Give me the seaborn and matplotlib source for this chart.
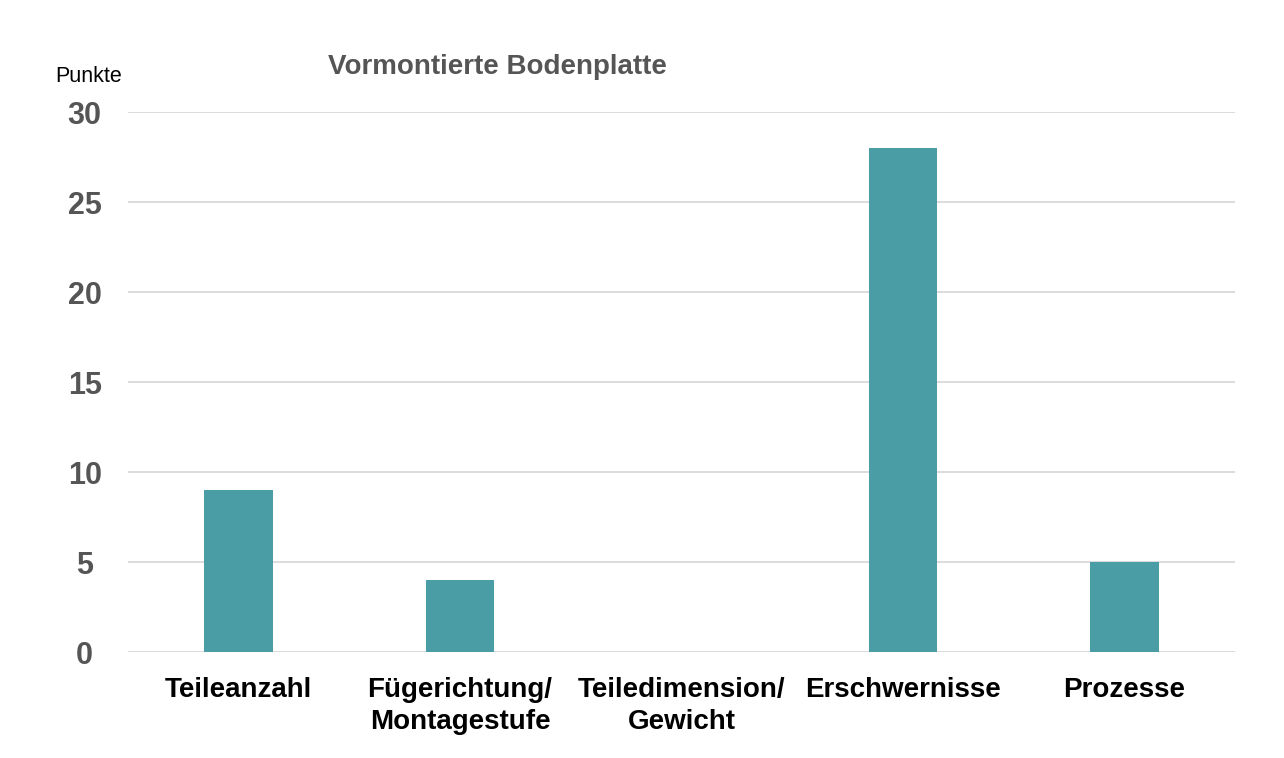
import matplotlib
matplotlib.use("Agg")
import matplotlib.pyplot as plt
import seaborn as sns
import pandas as pd

categories = ["Teileanzahl", "Fügerichtung/\nMontagestufe", "Teiledimension/\nGewicht", "Erschwernisse", "Prozesse"]
values = [9, 4, 0, 28, 5]
yticks = [0, 5, 10, 15, 20, 25, 30]

sns.set_theme(style="white")
plt.rcParams['font.family'] = ['Liberation Sans', 'DejaVu Sans']

df = pd.DataFrame({"Kategorie": categories, "Punkte": values})

fig = plt.figure(figsize=(12.84, 7.58), dpi=100)
ax = fig.add_axes([128/1284, 1-652/758, (1235-128)/1284, (652-112)/758])
sns.barplot(data=df, x="Kategorie", y="Punkte", color="#4a9da5", width=0.31, ax=ax,
            saturation=1, linewidth=0)
ax.set_xlim(-0.5, 4.5)
ax.set_ylim(0, 30)
ax.set_yticks(yticks)
ax.set_yticklabels([str(t) for t in yticks], fontsize=22, fontweight="bold", color="#555555")
ax.set_xticks(range(len(categories)))
ax.set_xticklabels(categories, fontsize=20, fontweight="bold", color="black", linespacing=1.28)
ax.tick_params(axis="x", length=0, pad=18)
ax.tick_params(axis="y", length=0, pad=28)
for lbl in ax.get_yticklabels():
    lbl.set_horizontalalignment("center")
    lbl.set_x(-0.004)
ax.yaxis.grid(True, color="#d9d9d9", linewidth=1.3)
ax.set_axisbelow(True)
for s in ax.spines.values():
    s.set_visible(False)
ax.set_xlabel("")
ax.set_ylabel("")
fig.text(55/1284, 1-76/758, "Punkte", fontsize=15.5, color="black", va="center", ha="left")
fig.text(328/1284, 1-67/758, "Vormontierte Bodenplatte", fontsize=20, fontweight="bold", color="#555555", va="center", ha="left")
fig.savefig("out.png", dpi=100)
